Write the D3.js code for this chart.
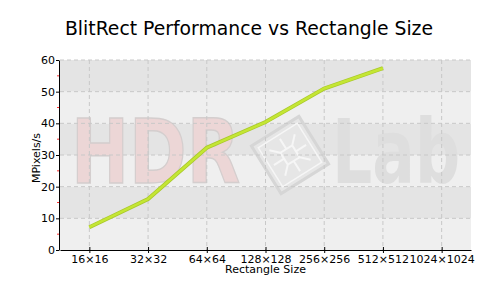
<!DOCTYPE html>
<html>
<head>
<meta charset="utf-8">
<script src="https://cdn.jsdelivr.net/npm/d3@7"></script>
<style>
  body { margin: 0; background: #fff; }
  text { font-family: "DejaVu Sans", Verdana, sans-serif; }
</style>
</head>
<body>
<div id="chart"></div>
<script>
// Data
const sizes = ["16×16", "32×32", "64×64", "128×128", "256×256", "512×512", "1024×1024"];
const mpixels = [7.2, 16.1, 32.3, 40.4, 51.0, 57.4];
const yTicks = [0, 10, 20, 30, 40, 50, 60];
const minorTicks = [5, 15, 25, 35, 45, 55];

const width = 500, height = 300;
const margin = { top: 60, right: 29, bottom: 50, left: 60 };
const innerW = width - margin.left - margin.right;
const innerH = height - margin.top - margin.bottom;

const svg = d3.select("#chart")
    .append("svg")
    .attr("width", width)
    .attr("height", height);

// Title
svg.append("text")
    .attr("x", 249)
    .attr("y", 35)
    .attr("text-anchor", "middle")
    .attr("font-size", 18.8)
    .attr("fill", "#000")
    .text("BlitRect Performance vs Rectangle Size");

const g = svg.append("g")
    .attr("transform", `translate(${margin.left},${margin.top})`);

// Scales
const xScale = d3.scalePoint().domain(sizes).range([0, innerW]).padding(0.5);
const yScale = d3.scaleLinear().domain([0, 60]).range([innerH, 0]);

// Alternating background bands
const bands = d3.range(0, 60, 10);
g.selectAll(".band")
    .data(bands)
    .enter()
    .append("rect")
    .attr("x", 0)
    .attr("y", d => yScale(d + 10))
    .attr("width", innerW)
    .attr("height", d => yScale(d) - yScale(d + 10))
    .attr("fill", d => (d / 10) % 2 === 0 ? "#efefef" : "#e4e4e4");

// Watermark (squeezed horizontally with a transform)
const wm = g.append("g");
wm.append("text")
    .attr("transform", "translate(11,123) scale(0.78,1)")
    .attr("font-size", 89)
    .attr("font-weight", "bold")
    .attr("fill", "#ecd6d6")
    .attr("stroke", "#d4cece")
    .attr("stroke-width", 1.5)
    .text("HDR");
wm.append("text")
    .attr("transform", "translate(272,123) scale(0.71,1)")
    .attr("font-size", 89)
    .attr("font-weight", "bold")
    .attr("fill", "#dedede")
    .text("Lab");
const logo = wm.append("g").attr("transform", "translate(230,95) rotate(-32)");
logo.append("rect")
    .attr("x", -28).attr("y", -28).attr("width", 56).attr("height", 56)
    .attr("fill", "#e6e6e6").attr("stroke", "#d6d6d6").attr("stroke-width", 3);
logo.append("rect")
    .attr("x", -23).attr("y", -23).attr("width", 46).attr("height", 46)
    .attr("fill", "none").attr("stroke", "#f6f6f6").attr("stroke-width", 1.5);
logo.append("path")
    .attr("d", "M-7,-7 L7,-7 L7,7 L-7,7 Z M-7,-7 L-15,-15 M7,-7 L15,-15 M7,7 L15,15 M-7,7 L-15,15 M0,-7 L0,-19 M0,7 L0,19 M-7,0 L-19,0 M7,0 L19,0")
    .attr("fill", "none").attr("stroke", "#f6f6f6").attr("stroke-width", 2);

// Grid lines
g.selectAll(".hgrid")
    .data(yTicks.slice(1))
    .enter()
    .append("line")
    .attr("x1", 0).attr("x2", innerW)
    .attr("y1", d => yScale(d)).attr("y2", d => yScale(d))
    .attr("stroke", "#c8c8c8")
    .attr("stroke-dasharray", "4,3");

g.selectAll(".vgrid")
    .data(sizes)
    .enter()
    .append("line")
    .attr("x1", d => xScale(d)).attr("x2", d => xScale(d))
    .attr("y1", 0).attr("y2", innerH)
    .attr("stroke", "#c8c8c8")
    .attr("stroke-dasharray", "4,3");

// Axes
const xAxis = d3.axisBottom(xScale).tickSizeInner(3).tickSizeOuter(0).tickPadding(2);
const yAxis = d3.axisLeft(yScale).tickValues(yTicks).tickSizeInner(3).tickSizeOuter(0).tickPadding(1);

const gx = g.append("g")
    .attr("transform", `translate(0,${innerH})`)
    .call(xAxis);
gx.selectAll(".tick line").attr("y1", -3);
gx.selectAll("text").attr("font-size", 11).attr("fill", "#000");

const gy = g.append("g")
    .attr("transform", "translate(-1,0)")
    .call(yAxis);
gy.selectAll("text").attr("font-size", 11).attr("fill", "#000");

// Minor red ticks
g.selectAll(".minor")
    .data(minorTicks)
    .enter()
    .append("line")
    .attr("x1", -3).attr("x2", -1)
    .attr("y1", d => yScale(d)).attr("y2", d => yScale(d))
    .attr("stroke", "#ff3030");

g.selectAll(".domain").attr("stroke", "#000");

// Axis titles
svg.append("text")
    .attr("transform", `translate(39.5,158) rotate(-90)`)
    .attr("text-anchor", "middle")
    .attr("font-size", 11)
    .text("MPixels/s");

svg.append("text")
    .attr("x", margin.left + innerW / 2)
    .attr("y", 272.5)
    .attr("text-anchor", "middle")
    .attr("font-size", 11)
    .text("Rectangle Size");

// Line
const line = d3.line()
    .x((d, i) => xScale(sizes[i]))
    .y(d => yScale(d));

g.append("path")
    .datum(mpixels)
    .attr("fill", "none")
    .attr("stroke", "#a9c82a")
    .attr("stroke-width", 4)
    .attr("d", line);
g.append("path")
    .datum(mpixels)
    .attr("fill", "none")
    .attr("stroke", "#c4e634")
    .attr("stroke-width", 2.5)
    .attr("d", line);
</script>
</body>
</html>
